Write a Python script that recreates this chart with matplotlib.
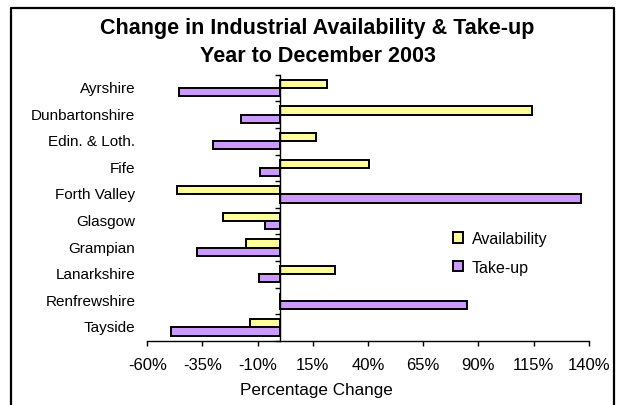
import numpy as np
import matplotlib
matplotlib.use('Agg')
import matplotlib.pyplot as plt
import matplotlib.transforms as mtrans
from matplotlib.lines import Line2D
from matplotlib.patches import Patch

plt.rcParams['font.family'] = ['Liberation Sans', 'DejaVu Sans']

## Data ##
regions = ['Ayrshire', 'Dunbartonshire', 'Edin. & Loth.', 'Fife', 'Forth Valley',
           'Glasgow', 'Grampian', 'Lanarkshire', 'Renfrewshire', 'Tayside']
availability = [21.4, 114.2, 16.3, 40.5, -46.5, -25.8, -15.4, 25.2, 0.0, -13.3]
take_up = [-45.6, -17.5, -30.1, -8.9, 136.5, -6.7, -37.5, -9.5, 84.9, -49.4]
x_ticks = [-60, -35, -10, 15, 40, 65, 90, 115, 140]

title_lines = ['Change in Industrial Availability & Take-up', 'Year to December 2003']
yellow = '#FFFF99'
purple = '#CC99FF'

W, H = 621, 406
fig = plt.figure(figsize=(W / 100, H / 100), dpi=100)
ax = fig.add_axes([147.3 / W, 1 - 341.7 / H, 441.4 / W, 266 / H])

y = np.arange(len(regions))
h = 0.31
ax.barh(y - h / 2, availability, height=h, color=yellow, edgecolor='black', linewidth=1.4, label='Availability')
ax.barh(y + h / 2, take_up, height=h, color=purple, edgecolor='black', linewidth=1.4, label='Take-up')

ax.set_xlim(-60, 140)
ax.set_ylim(len(regions) - 0.5, -0.5)

# y axis sits on zero, ticks between categories
ax.spines['left'].set_position(('data', 0))
ax.spines['right'].set_visible(False)
ax.spines['top'].set_visible(False)
for s in ['left', 'bottom']:
    ax.spines[s].set_linewidth(1.0)
ax.set_yticks(np.arange(len(regions) + 1) - 0.5)
ax.set_yticklabels([])
ax.tick_params(axis='y', direction='out', length=3.5, width=1.0)

ax.set_xticks(x_ticks)
ax.set_xticklabels(['%d%%' % v for v in x_ticks], fontsize=12)
ax.tick_params(axis='x', direction='out', length=3.5, width=1.0, pad=8)

# category labels at the left of the plot
trans = mtrans.blended_transform_factory(ax.transAxes, ax.transData)
for i, name in enumerate(regions):
    ax.text(-0.027, i, name, transform=trans, ha='right', va='center', fontsize=11)

fig.text(317.6 / W, 1 - 34 / H, title_lines[0], ha='center', va='baseline',
         fontsize=15.5, fontweight='bold')
fig.text(317.6 / W, 1 - 61.7 / H, title_lines[1], ha='center', va='baseline',
         fontsize=15.5, fontweight='bold')
fig.text(316 / W, 1 - 395 / H, 'Percentage Change', ha='center', va='baseline', fontsize=12.3)

handles = [Patch(facecolor=yellow, edgecolor='black', linewidth=1.4),
           Patch(facecolor=purple, edgecolor='black', linewidth=1.4)]
ax.legend(handles, ['Availability', 'Take-up'], loc='upper left',
          bbox_to_anchor=(442 / W, 1 - 221 / H), bbox_transform=fig.transFigure,
          frameon=False, fontsize=11.5, handlelength=0.6, handleheight=0.6,
          handletextpad=0.55, labelspacing=0.85, borderpad=0.2)

# chart border (open at the bottom, as in the source)
fig.add_artist(Line2D([11 / W, 11 / W, 613.7 / W, 613.7 / W],
                      [0, 1 - 9.3 / H, 1 - 9.3 / H, 0],
                      transform=fig.transFigure, color='black', linewidth=1.6))

fig.savefig('out.png', dpi=100)
